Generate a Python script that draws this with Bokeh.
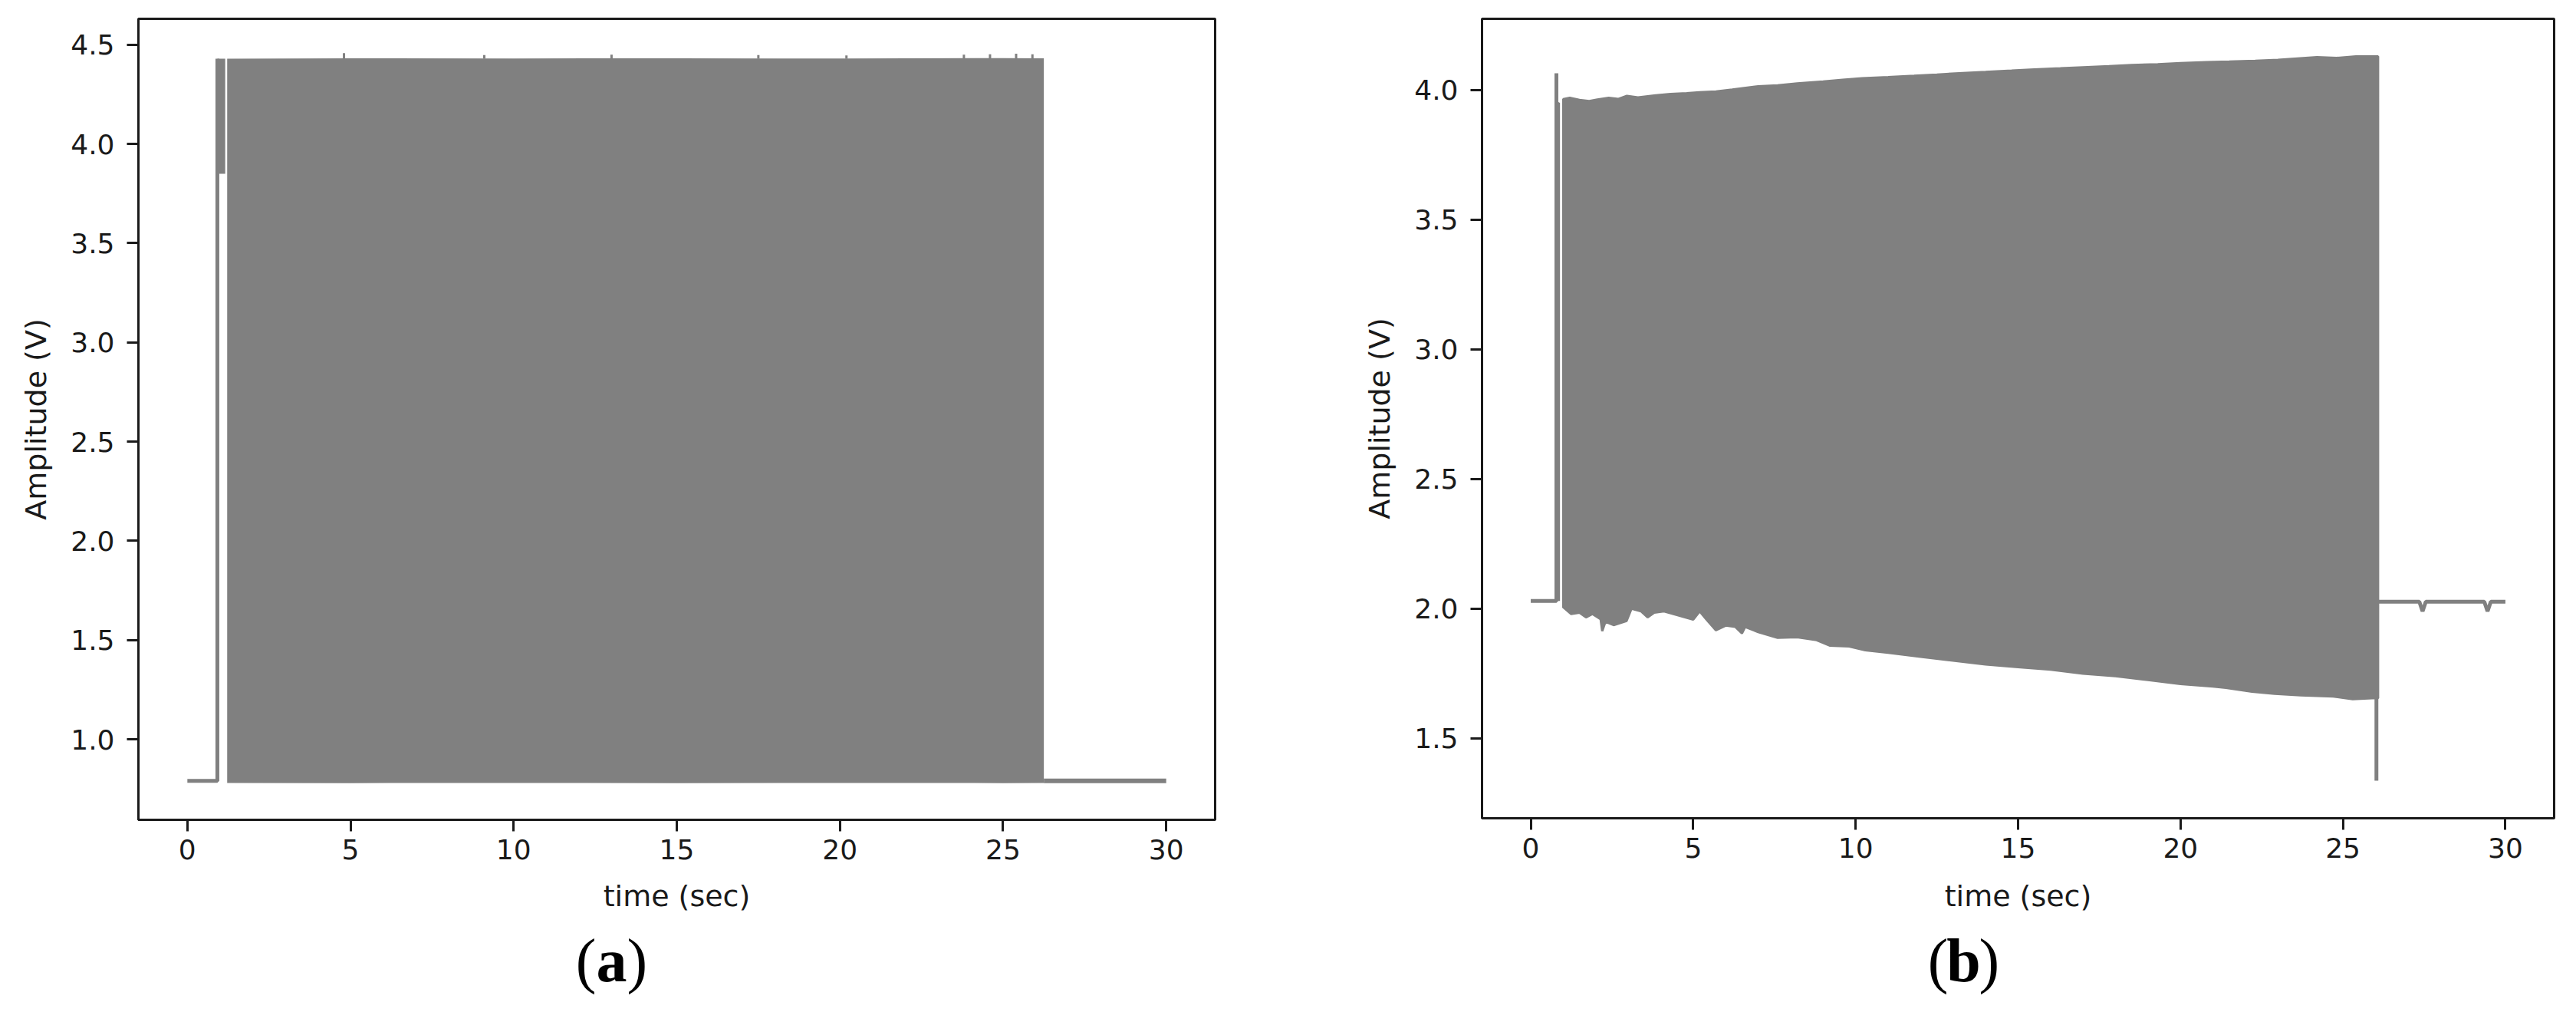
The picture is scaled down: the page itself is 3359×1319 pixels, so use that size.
from bokeh.plotting import figure
from bokeh.models import Range1d, FixedTicker
from bokeh.layouts import row, column
from bokeh.core.properties import value
from bokeh.embed import file_html
from bokeh.resources import INLINE

GRAY = "#808080"
INK = "#1a1a1a"

# ---------------- shared axis data ----------------
x_ticks = [0, 5, 10, 15, 20, 25, 30]
x_tick_labels = ["0", "5", "10", "15", "20", "25", "30"]
x_title = "time (sec)"
y_title = "Amplitude (V)"
captions = ["a", "b"]

# ---------------- panel (a) ----------------
ya_ticks = [1.0, 1.5, 2.0, 2.5, 3.0, 3.5, 4.0, 4.5]
ya_tick_labels = ["1.0", "1.5", "2.0", "2.5", "3.0", "3.5", "4.0", "4.5"]

a_pre_t = [0.0, 0.92, 0.92]
a_pre_v = [0.79, 0.79, 4.43]
a_blk_t = [0.92, 1.16]
a_blk_top = [4.43, 4.43]
a_blk_bot = [3.85, 3.85]
a_env_t = [1.22, 5.0, 10.0, 15.0, 20.0, 25.0, 26.25]
a_env_top = [4.43, 4.432, 4.431, 4.432, 4.431, 4.433, 4.432]
a_env_bot = [0.78, 0.779, 0.78, 0.779, 0.78, 0.779, 0.78]
a_spike_t = [4.8, 9.1, 13.0, 17.5, 20.2, 23.8, 24.6, 25.4, 25.9]
a_spike_v = [4.458, 4.448, 4.45, 4.448, 4.446, 4.45, 4.452, 4.455, 4.452]
a_post_t = [26.25, 30.0]
a_post_v = [0.79, 0.79]

# ---------------- panel (b) ----------------
yb_ticks = [1.5, 2.0, 2.5, 3.0, 3.5, 4.0]
yb_tick_labels = ["1.5", "2.0", "2.5", "3.0", "3.5", "4.0"]

b_pre_t = [0.0, 0.79, 0.79]
b_pre_v = [2.03, 2.03, 4.065]
b_blk_t = [0.79, 0.9]
b_blk_top = [3.96, 3.95]
b_blk_bot = [2.03, 2.03]

b_top_t = [1.0, 1.2, 1.5, 1.8, 2.05, 2.4, 2.7, 2.96, 3.3, 3.85, 4.3, 4.8, 5.2, 5.7,
           6.2, 7.0, 7.6, 8.2, 9.0, 9.6, 10.2, 11.0, 11.8, 12.5, 13.3, 14.0, 14.8,
           15.5, 16.3, 17.0, 17.8, 18.5, 19.3, 20.0, 20.8, 21.5, 22.3, 23.0, 23.6,
           24.2, 24.8, 25.4, 26.08]
b_top_v = [3.965, 3.97, 3.962, 3.958, 3.964, 3.97, 3.966, 3.978, 3.972, 3.98, 3.985,
           3.988, 3.992, 3.995, 4.002, 4.015, 4.018, 4.026, 4.033, 4.04, 4.046, 4.05,
           4.055, 4.06, 4.066, 4.07, 4.075, 4.08, 4.084, 4.088, 4.092, 4.097, 4.1,
           4.104, 4.108, 4.11, 4.113, 4.117, 4.122, 4.127, 4.124, 4.13, 4.13]

b_bot_t = [1.0, 1.24, 1.5, 1.7, 1.9, 2.15, 2.2, 2.3, 2.55, 2.95, 3.1, 3.4, 3.6, 3.8,
           4.1, 4.5, 5.0, 5.2, 5.4, 5.7, 6.0, 6.3, 6.5, 6.6, 7.0, 7.6, 8.2, 8.8, 9.2,
           9.8, 10.3, 11.0, 12.0, 13.0, 14.0, 15.0, 16.0, 17.0, 18.0, 19.0, 20.0,
           21.0, 21.4, 22.2, 22.9, 23.7, 24.7, 25.3, 25.9, 26.08]
b_bot_v = [2.006, 1.98, 1.985, 1.967, 1.98, 1.96, 1.914, 1.95, 1.937, 1.953, 2.0,
           1.99, 1.967, 1.985, 1.99, 1.976, 1.958, 1.99, 1.96, 1.917, 1.935, 1.93,
           1.905, 1.93, 1.91, 1.888, 1.89, 1.879, 1.858, 1.855, 1.84, 1.83, 1.815,
           1.80, 1.785, 1.775, 1.765, 1.75, 1.74, 1.725, 1.71, 1.70, 1.695, 1.68,
           1.672, 1.666, 1.662, 1.651, 1.655, 1.655]

b_dip_t = [26.03, 26.03]
b_dip_v = [1.655, 1.337]
b_post_t = [26.1, 27.35, 27.45, 27.55, 29.35, 29.45, 29.55, 30.0]
b_post_v = [2.027, 2.027, 1.99, 2.027, 2.027, 1.99, 2.027, 2.027]


def style(p, yticks, ylabels):
    p.xgrid.visible = False
    p.ygrid.visible = False
    p.outline_line_color = INK
    p.outline_line_width = 3
    p.background_fill_color = "white"
    p.border_fill_color = "white"
    p.xaxis.ticker = FixedTicker(ticks=x_ticks)
    p.xaxis.major_label_overrides = dict(zip(x_ticks, x_tick_labels))
    p.yaxis.ticker = FixedTicker(ticks=yticks)
    p.yaxis.major_label_overrides = dict(zip(yticks, ylabels))
    for ax in (p.xaxis[0], p.yaxis[0]):
        ax.axis_line_color = INK
        ax.axis_line_width = 3
        ax.major_tick_in = 0
        ax.major_tick_out = 15
        ax.major_tick_line_width = 3
        ax.major_tick_line_color = INK
        ax.minor_tick_line_color = None
        ax.major_label_text_font = "DejaVu Sans"
        ax.major_label_text_font_size = "36px"
        ax.major_label_text_color = INK
        ax.axis_label_text_font = "DejaVu Sans"
        ax.axis_label_text_font_size = "38px"
        ax.axis_label_text_font_style = "normal"
        ax.axis_label_text_color = INK
    p.yaxis.axis_label = y_title
    p.xaxis.major_label_standoff = 10
    p.yaxis.major_label_standoff = 16
    p.yaxis.axis_label_standoff = 20


# page geometry of the upper row
TOP_H = 1138

# ---------------- figure (a) ----------------
xa0, xa1, ya0, ya1 = -1.5, 31.5, 0.594, 4.631
pa = figure(frame_width=1404, frame_height=1044,
            x_range=Range1d(xa0, xa1), y_range=Range1d(ya0, ya1),
            output_backend="svg", toolbar_location=None,
            min_border_left=180, min_border_right=60, min_border_top=24,
            min_border_bottom=TOP_H - 24 - 1044)
style(pa, ya_ticks, ya_tick_labels)

pa.line(a_pre_t, a_pre_v, line_color=GRAY, line_width=5)
pa.varea(x=a_blk_t, y1=a_blk_bot, y2=a_blk_top, fill_color=GRAY)
pa.varea(x=a_env_t, y1=a_env_bot, y2=a_env_top, fill_color=GRAY)
pa.segment(x0=a_spike_t, y0=[a_env_top[0]] * len(a_spike_t), x1=a_spike_t, y1=a_spike_v,
           line_color=GRAY, line_width=3)
pa.line(a_post_t, a_post_v, line_color=GRAY, line_width=6)

# ---------------- figure (b) ----------------
xb0, xb1, yb0, yb1 = -1.5, 31.5, 1.192, 4.275
pb = figure(frame_width=1398, frame_height=1042,
            x_range=Range1d(xb0, xb1), y_range=Range1d(yb0, yb1),
            output_backend="svg", toolbar_location=None,
            min_border_left=288, min_border_right=12, min_border_top=20,
            min_border_bottom=TOP_H - 20 - 1042)
style(pb, yb_ticks, yb_tick_labels)

pb.line(b_pre_t, b_pre_v, line_color=GRAY, line_width=5)
pb.varea(x=b_blk_t, y1=b_blk_bot, y2=b_blk_top, fill_color=GRAY)
pb.patch(x=b_top_t + b_bot_t[::-1], y=b_top_v + b_bot_v[::-1], fill_color=GRAY,
         line_color=GRAY, line_width=3)
pb.line(b_dip_t, b_dip_v, line_color=GRAY, line_width=5)
pb.line(b_post_t, b_post_v, line_color=GRAY, line_width=5)

A_W = 180 + 1404 + 60
B_W = 288 + 1398 + 12

# ---------------- strips below: x-axis title and "(a)" / "(b)" captions ----------------
CAP_H = 1316 - TOP_H
CAP_FONT = 80


def caption_strip(width, letter, title_cx, title_mid, cx, mid):
    c = figure(width=width, height=CAP_H, x_range=Range1d(0, width), y_range=Range1d(0, CAP_H),
               output_backend="svg", toolbar_location=None, min_border=0,
               x_axis_location=None, y_axis_location=None)
    c.grid.visible = False
    c.outline_line_color = None
    # axis title
    c.text(x=[title_cx], y=[CAP_H - (title_mid - TOP_H)], text=[x_title], text_align="center",
           text_baseline="middle", text_font=value("DejaVu Sans"), text_font_size="38px",
           text_color=INK)
    # caption: bold letter between regular parentheses
    y = CAP_H - (mid - TOP_H)
    half = 0.25 * CAP_FONT
    font = value("Liberation Serif")
    c.text(x=[cx], y=[y], text=[letter], text_align="center", text_baseline="middle",
           text_font=font, text_font_style="bold",
           text_font_size=f"{CAP_FONT}px", text_color="black")
    c.text(x=[cx - half], y=[y], text=["("], text_align="right", text_baseline="middle",
           text_font=font, text_font_size=f"{CAP_FONT}px", text_color="black")
    c.text(x=[cx + half], y=[y], text=[")"], text_align="left", text_baseline="middle",
           text_font=font, text_font_size=f"{CAP_FONT}px", text_color="black")
    return c


ca = caption_strip(A_W, captions[0], 180 + 1404 / 2, 1167, 797, 1251)
cb = caption_strip(B_W, captions[1], 288 + 1398 / 2, 1167, 2560 - A_W, 1251)

layout = column(row(pa, pb), row(ca, cb))
open("out.html", "w").write(file_html(layout, INLINE))
